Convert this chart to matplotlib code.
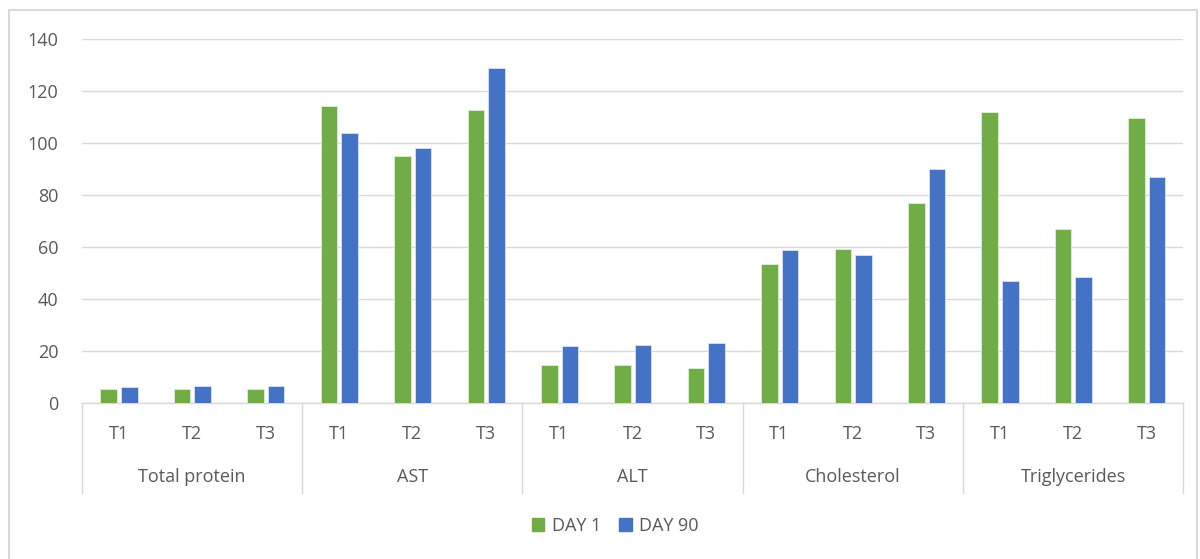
import matplotlib.pyplot as plt
import matplotlib.transforms as mtransforms
from matplotlib.patches import Rectangle, Patch
import numpy as np

# Blood parameters per treatment, day 1 vs day 90
groups = ['Total protein', 'AST', 'ALT', 'Cholesterol', 'Triglycerides']
treatments = ['T1', 'T2', 'T3']
day1 = [5.3, 5.3, 5.3,
        114.2, 95.2, 112.8,
        14.5, 14.5, 13.5,
        53.5, 59.2, 77.0,
        112.0, 67.0, 109.5]
day90 = [6.2, 6.6, 6.6,
         103.8, 98.1, 128.8,
         22.0, 22.5, 23.0,
         58.8, 57.0, 90.0,
         47.0, 48.5, 87.0]

green = '#70AD47'
blue = '#4472C4'
grid_c = '#D9D9D9'
text_c = '#595959'
fs = 13
plt.rcParams['font.family'] = ['Open Sans', 'DejaVu Sans']

fig = plt.figure(figsize=(12, 5.59), dpi=100)
ax = fig.add_axes([0.0683, 0.279, 0.9177, 0.651])

x = np.arange(len(day1))
w = 0.225
ax.bar(x - 0.135, day1, width=w, color=green, edgecolor='#E2EFDA', linewidth=0.6, zorder=3)
ax.bar(x + 0.145, day90, width=w, color=blue, edgecolor='#DAE3F3', linewidth=0.6, zorder=3)

ax.set_xlim(-0.5, len(day1) - 0.5)
ax.set_ylim(0, 140)
ax.set_yticks(range(0, 141, 20))
ax.grid(axis='y', color=grid_c, linewidth=1, zorder=0)
for s in ['top', 'right', 'left']:
    ax.spines[s].set_visible(False)
ax.spines['bottom'].set_color(grid_c)
ax.spines['bottom'].set_linewidth(1)
ax.tick_params(axis='y', length=0, pad=17, labelsize=fs, labelcolor=text_c)
ax.set_xticks(x)
ax.set_xticklabels(treatments * len(groups))
ax.tick_params(axis='x', length=0, pad=16, labelsize=fs, labelcolor=text_c)

# group separators and group names under the tick labels
trans = mtransforms.blended_transform_factory(ax.transData, ax.transAxes)
for b in np.arange(0, len(day1) + 1, 3) - 0.5:
    ax.plot([b, b], [0, -0.247], transform=trans, color=grid_c, linewidth=1, clip_on=False)
for i, g in enumerate(groups):
    ax.text(i * 3 + 1, -0.203, g, transform=trans, ha='center', va='center',
            fontsize=fs, color=text_c)

# light frame around the chart area
fig.add_artist(Rectangle((9 / 1200, -0.01), 1188 / 1200, 1 - 10 / 559 + 0.01,
                         transform=fig.transFigure, fill=False,
                         edgecolor=grid_c, linewidth=1.5))

handles = [Patch(color=green, label='DAY 1'), Patch(color=blue, label='DAY 90')]
fig.legend(handles=handles, loc='center', bbox_to_anchor=(615 / 1200, 1 - 526 / 559),
           ncol=2, frameon=False, handlelength=0.7, handleheight=0.7,
           handletextpad=0.4, columnspacing=1.0, fontsize=fs, labelcolor=text_c)

fig.savefig('out.png', dpi=100)
